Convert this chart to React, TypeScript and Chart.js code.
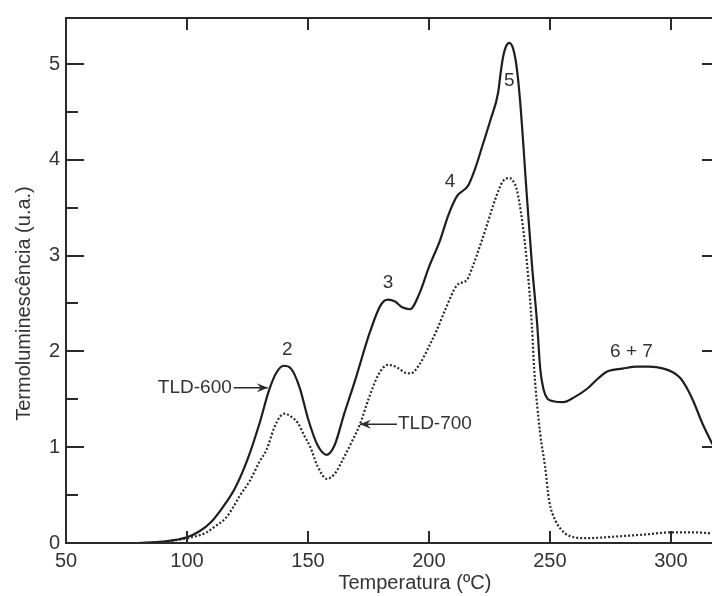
import React, { useEffect, useRef } from 'react';
import { Chart, registerables } from 'chart.js';

Chart.register(...registerables);

// ---- data ----
const xTicks = [50, 100, 150, 200, 250, 300];
const yMajorTicks = [0, 1, 2, 3, 4, 5];
const yMinorTicks = [0.5, 1.5, 2.5, 3.5, 4.5];

const tld600T = [80, 90, 100, 105, 110, 115, 120, 125, 130, 134, 137, 140, 143, 146.6, 150, 154, 157.8, 161, 165, 169.4, 175.6, 180, 183, 186, 189, 192.2, 196, 200, 204.6, 208, 211.6, 216.2, 219, 222.4, 225.5, 228.6, 229.6, 230.7, 231.8, 233.2, 234.8, 236.3, 237.7, 240.6, 242.6, 244.7, 246, 247.3, 248.9, 251.4, 255.5, 260, 265.4, 270, 273.7, 280, 286, 291, 297, 301, 304, 307, 309.3, 313, 317.2];
const tld600V = [0, 0.015, 0.06, 0.12, 0.22, 0.38, 0.58, 0.87, 1.25, 1.6, 1.78, 1.85, 1.82, 1.62, 1.3, 1.02, 0.92, 1.02, 1.35, 1.69, 2.2, 2.48, 2.54, 2.52, 2.46, 2.44, 2.6, 2.88, 3.16, 3.42, 3.62, 3.73, 3.9, 4.17, 4.42, 4.7, 4.9, 5.08, 5.18, 5.22, 5.16, 4.96, 4.61, 3.58, 2.9, 2.3, 1.82, 1.61, 1.51, 1.48, 1.47, 1.52, 1.61, 1.72, 1.79, 1.82, 1.84, 1.84, 1.82, 1.78, 1.72, 1.6, 1.48, 1.25, 1.03];

const tld700T = [82, 90, 100, 105, 108, 112, 116, 119, 122, 126, 130, 133, 136, 138.5, 140.4, 143, 145.9, 148.5, 151, 154, 157.8, 161, 165, 168, 171.5, 175, 179, 183, 187, 190, 192.5, 196, 200, 203.4, 207, 211.6, 215.8, 218, 221.1, 224, 226.5, 229.4, 230.7, 233.2, 234.8, 236.4, 238.5, 240.6, 242.6, 243.5, 246, 248, 249.7, 252.2, 256.3, 260, 264.6, 270, 278.7, 290, 299.4, 310, 317];
const tld700V = [0, 0.01, 0.05, 0.08, 0.11, 0.18, 0.26, 0.37, 0.5, 0.65, 0.85, 0.98, 1.2, 1.32, 1.35, 1.32, 1.25, 1.12, 1.0, 0.8, 0.67, 0.72, 0.9, 1.05, 1.24, 1.5, 1.75, 1.86, 1.83, 1.78, 1.77, 1.86, 2.05, 2.23, 2.45, 2.69, 2.75, 2.88, 3.1, 3.32, 3.52, 3.72, 3.78, 3.81, 3.78, 3.68, 3.37, 2.9, 2.25, 1.82, 1.14, 0.8, 0.44, 0.24, 0.1, 0.06, 0.05, 0.055, 0.07, 0.09, 0.11, 0.11, 0.1];

const peakLabels = ['2', '3', '4', '5', '6 + 7'];
const peakX = [141.5, 183.1, 208.7, 233.2, 283.7];
const peakY = [2.02, 2.72, 3.77, 4.82, 2.0];

const seriesNames = ['TLD-600', 'TLD-700'];
const arrowTipX = [133.4, 171.5];
const arrowTipY = [1.62, 1.24];

const xTitle = 'Temperatura (ºC)';
const yTitle = 'Termoluminescência (u.a.)';

const FONT = '"Liberation Sans", Arial, Helvetica, sans-serif';
const INK = '#2a2a2a';
const TEXT = '#333333';

const framePlugin = {
  id: 'frame',
  afterDraw(chart: any) {
    const { ctx, chartArea } = chart;
    const xs = chart.scales.x;
    const ys = chart.scales.y;
    const { left, right, top, bottom } = chartArea;
    ctx.save();
    ctx.strokeStyle = INK;
    ctx.lineWidth = 2;
    ctx.lineCap = 'butt';
    // frame (top, left, bottom)
    ctx.beginPath();
    ctx.moveTo(right + 2, top);
    ctx.lineTo(left, top);
    ctx.lineTo(left, bottom);
    ctx.lineTo(right + 2, bottom);
    ctx.stroke();
    // x ticks inward (bottom and top)
    ctx.beginPath();
    xTicks.forEach((v) => {
      const px = Math.round(xs.getPixelForValue(v));
      if (Math.abs(px - left) < 2) return;
      ctx.moveTo(px, bottom);
      ctx.lineTo(px, bottom - 12);
      ctx.moveTo(px, top);
      ctx.lineTo(px, top + 12);
    });
    // y ticks inward left (major & minor), right major
    yMajorTicks.forEach((v) => {
      const py = Math.round(ys.getPixelForValue(v));
      if (v === 0) return;
      ctx.moveTo(left, py);
      ctx.lineTo(left + 18, py);
      ctx.moveTo(right - 10, py);
      ctx.lineTo(right + 2, py);
    });
    yMinorTicks.forEach((v) => {
      const py = Math.round(ys.getPixelForValue(v));
      ctx.moveTo(left, py);
      ctx.lineTo(left + 12, py);
    });
    ctx.stroke();

    // peak labels
    ctx.fillStyle = TEXT;
    ctx.font = `19px ${FONT}`;
    ctx.textAlign = 'center';
    ctx.textBaseline = 'middle';
    peakLabels.forEach((t, i) => {
      ctx.fillText(t, xs.getPixelForValue(peakX[i]), ys.getPixelForValue(peakY[i]));
    });

    // series annotations with arrows
    const drawArrow = (x0: number, y: number, x1: number) => {
      ctx.beginPath();
      ctx.lineWidth = 1.4;
      ctx.moveTo(x0, y);
      ctx.lineTo(x1, y);
      ctx.stroke();
      const dir = x1 > x0 ? 1 : -1;
      ctx.fillStyle = INK;
      ctx.beginPath();
      ctx.moveTo(x1, y);
      ctx.lineTo(x1 - dir * 11, y - 4.5);
      ctx.lineTo(x1 - dir * 7, y);
      ctx.lineTo(x1 - dir * 11, y + 4.5);
      ctx.closePath();
      ctx.fill();
      ctx.fillStyle = TEXT;
    };
    // TLD-600: text left, arrow pointing right
    {
      const tx = xs.getPixelForValue(arrowTipX[0]);
      const ty = ys.getPixelForValue(arrowTipY[0]);
      drawArrow(tx - 34, ty, tx);
      ctx.textAlign = 'right';
      ctx.fillText(seriesNames[0], tx - 36, ty);
    }
    // TLD-700: arrow pointing left, text right
    {
      const tx = xs.getPixelForValue(arrowTipX[1]);
      const ty = ys.getPixelForValue(arrowTipY[1]);
      drawArrow(tx + 37, ty, tx);
      ctx.textAlign = 'left';
      ctx.fillText(seriesNames[1], tx + 38, ty);
    }

    // axis titles
    ctx.font = `20px ${FONT}`;
    ctx.textAlign = 'center';
    ctx.textBaseline = 'middle';
    ctx.fillText(xTitle, xs.getPixelForValue(194.2), bottom + 40);
    ctx.save();
    ctx.translate(24, ys.getPixelForValue(2.5));
    ctx.rotate(-Math.PI / 2);
    ctx.fillText(yTitle, 0, 0);
    ctx.restore();
    ctx.restore();
  },
};

export default function App() {
  const ref = useRef<HTMLCanvasElement | null>(null);
  useEffect(() => {
    if (!ref.current) return;
    const chart = new Chart(ref.current, {
      type: 'line',
      data: {
        datasets: [
          {
            label: seriesNames[0],
            data: tld600T.map((t, i) => ({ x: t, y: tld600V[i] })),
            borderColor: '#1e1e1e',
            borderWidth: 2.2,
            pointRadius: 0,
            cubicInterpolationMode: 'monotone',
            fill: false,
          },
          {
            label: seriesNames[1],
            data: tld700T.map((t, i) => ({ x: t, y: tld700V[i] })),
            borderColor: '#2a2a2a',
            borderWidth: 2.2,
            borderDash: [2, 2],
            pointRadius: 0,
            cubicInterpolationMode: 'monotone',
            fill: false,
          },
        ],
      },
      options: {
        responsive: false,
        animation: false,
        events: [],
        layout: { padding: { top: 13, right: 0, left: 0, bottom: 0 } },
        plugins: { legend: { display: false }, tooltip: { enabled: false } },
        scales: {
          x: {
            type: 'linear',
            min: 50,
            max: 317,
            grid: { display: false, drawTicks: false },
            border: { display: false },
            afterBuildTicks: (s: any) => {
              s.ticks = xTicks.map((v) => ({ value: v }));
            },
            afterFit: (s: any) => {
              s.height = 53;
            },
            ticks: {
              autoSkip: false,
              maxRotation: 0,
              padding: 6,
              color: TEXT,
              font: { family: FONT, size: 20 },
            },
          },
          y: {
            type: 'linear',
            min: 0,
            max: 5.48,
            grid: { display: false, drawTicks: false },
            border: { display: false },
            afterBuildTicks: (s: any) => {
              s.ticks = yMajorTicks.map((v) => ({ value: v }));
            },
            afterFit: (s: any) => {
              s.width = 66;
            },
            ticks: {
              padding: 6,
              color: TEXT,
              font: { family: FONT, size: 20 },
            },
          },
        },
      },
      plugins: [framePlugin],
    });
    return () => chart.destroy();
  }, []);
  return (
    <div style={{ position: 'absolute', left: 0, top: 0, width: 712, height: 596, background: '#fff' }}>
      <canvas ref={ref} width={712} height={596} style={{ display: 'block' }} />
    </div>
  );
}
